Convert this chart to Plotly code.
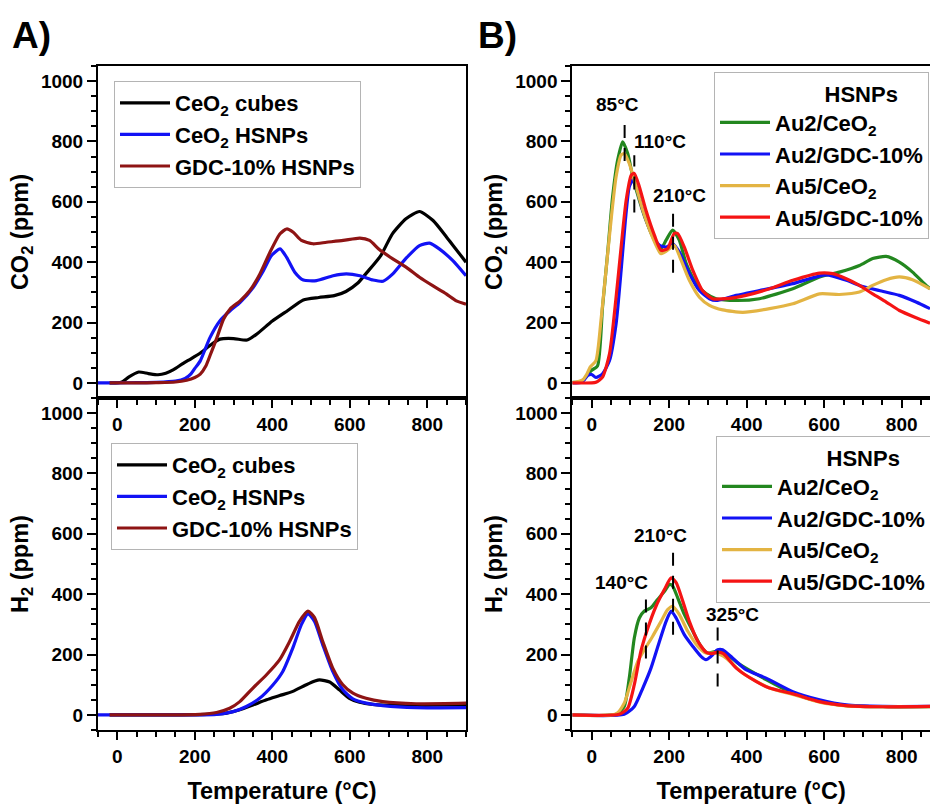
import plotly.graph_objects as go

# ---------------- data ----------------
# Panel A, CO2 (ppm) vs temperature (°C)
a_co2_cubes_t = [-20, 10, 30, 55, 80, 105, 125, 145, 170, 190, 215, 240, 265, 300, 335, 360, 400, 440, 480, 520, 560, 590, 620, 645, 680, 710, 745, 780, 815, 850, 900]
a_co2_cubes_v = [0, 2, 20, 36, 31, 27, 32, 44, 65, 80, 100, 125, 145, 147, 142, 162, 205, 240, 275, 283, 289, 303, 330, 367, 422, 494, 544, 568, 538, 483, 400]

a_co2_hsnp_t = [-50, 0, 50, 100, 150, 175, 190, 200, 214, 239, 265, 291, 317, 351, 377, 398, 420, 437, 458, 480, 514, 557, 591, 626, 660, 686, 711, 746, 780, 806, 831, 866, 900]
a_co2_hsnp_v = [0, 0, 1, 2, 6, 15, 30, 48, 73, 150, 206, 239, 267, 317, 372, 422, 444, 416, 367, 341, 339, 355, 361, 355, 341, 337, 361, 414, 455, 463, 444, 405, 355]

a_co2_gdc_t = [-20, 50, 100, 150, 179, 200, 214, 228, 239, 257, 274, 291, 317, 342, 368, 394, 420, 437, 454, 475, 505, 540, 583, 626, 651, 677, 711, 746, 780, 814, 849, 875, 900]
a_co2_gdc_v = [0, 0, 1, 3, 9, 18, 29, 55, 90, 150, 211, 245, 272, 306, 361, 433, 494, 510, 499, 472, 461, 466, 472, 480, 472, 441, 411, 383, 350, 322, 295, 272, 261]

# Panel A, H2 (ppm)
a_h2_cubes_t = [-20, 100, 213, 250, 282, 316, 350, 385, 419, 453, 488, 510, 522, 548, 573, 599, 625, 659, 728, 814, 900]
a_h2_cubes_v = [0, 0, 1, 3, 6, 17, 33, 50, 64, 78, 100, 112, 116, 109, 83, 55, 42, 35, 31, 32, 33]

a_h2_hsnp_t = [-50, 100, 200, 256, 299, 333, 367, 402, 427, 453, 475, 492, 509, 530, 556, 582, 608, 642, 685, 771, 900]
a_h2_hsnp_v = [0, 0, 0, 2, 11, 28, 55, 100, 144, 222, 299, 335, 310, 233, 144, 83, 53, 39, 31, 24, 24]

a_h2_gdc_t = [-20, 100, 213, 256, 290, 316, 350, 385, 419, 445, 470, 492, 509, 530, 556, 582, 608, 642, 685, 771, 900]
a_h2_gdc_v = [0, 0, 2, 8, 22, 44, 89, 133, 183, 244, 310, 344, 322, 244, 155, 100, 72, 55, 44, 37, 39]

# Panel B, CO2 (ppm)
b_co2_au2ceo2_t = [-50, -25, -12, 0, 15, 28, 41, 54, 67, 80, 93, 106, 123, 140, 162, 179, 192, 209, 226, 244, 269, 295, 321, 373, 433, 519, 588, 639, 691, 725, 760, 794, 828, 854, 873]
b_co2_au2ceo2_v = [2, 5, 25, 42, 56, 251, 428, 616, 738, 799, 760, 683, 605, 539, 473, 445, 473, 506, 473, 395, 329, 296, 279, 273, 279, 312, 351, 367, 389, 412, 419, 400, 367, 334, 312]

b_co2_au2gdc_t = [-50, -25, -10, 0, 11, 28, 46, 63, 76, 87, 97, 106, 115, 132, 157, 175, 192, 209, 226, 252, 278, 304, 321, 373, 433, 519, 605, 657, 691, 742, 794, 837, 873]
b_co2_au2gdc_v = [0, 3, 25, 28, 18, 30, 74, 196, 373, 539, 650, 672, 650, 572, 489, 456, 450, 461, 434, 362, 306, 279, 273, 290, 306, 329, 358, 340, 323, 306, 290, 268, 246]

b_co2_au5ceo2_t = [-50, -23, -12, -4, 11, 24, 37, 50, 63, 76, 84, 97, 115, 132, 157, 179, 201, 213, 231, 252, 278, 304, 338, 390, 459, 519, 588, 639, 691, 725, 760, 794, 828, 873]
b_co2_au5ceo2_v = [0, 10, 30, 52, 74, 207, 373, 539, 683, 755, 760, 727, 650, 572, 483, 428, 445, 456, 406, 340, 284, 257, 242, 234, 246, 262, 295, 293, 301, 323, 342, 351, 342, 312]

b_co2_au5gdc_t = [-50, 0, 11, 28, 46, 63, 76, 89, 102, 110, 123, 140, 162, 179, 196, 213, 222, 239, 261, 286, 312, 347, 398, 459, 519, 588, 622, 657, 691, 725, 760, 794, 837, 873]
b_co2_au5gdc_v = [0, 0, 2, 19, 96, 284, 450, 605, 688, 694, 650, 572, 489, 439, 445, 495, 495, 450, 373, 306, 279, 279, 290, 312, 340, 364, 362, 345, 323, 295, 268, 240, 216, 198]

# Panel B, H2 (ppm)
b_h2_au2ceo2_t = [-50, 63, 84, 97, 110, 123, 136, 153, 170, 188, 201, 209, 222, 239, 261, 282, 299, 321, 334, 381, 450, 519, 588, 657, 751, 873]
b_h2_au2ceo2_v = [0, 2, 28, 122, 255, 321, 344, 355, 382, 410, 432, 427, 388, 333, 277, 227, 205, 211, 214, 168, 117, 72, 45, 31, 27, 27]

b_h2_au2gdc_t = [-50, 84, 110, 132, 153, 175, 192, 205, 218, 239, 261, 282, 295, 308, 325, 338, 364, 398, 450, 519, 588, 657, 751, 873]
b_h2_au2gdc_v = [0, 2, 28, 89, 155, 244, 310, 344, 321, 266, 227, 194, 183, 194, 216, 216, 188, 150, 122, 77, 50, 33, 28, 28]

b_h2_au5ceo2_t = [-50, 63, 84, 102, 119, 136, 157, 179, 196, 209, 226, 248, 274, 295, 321, 347, 390, 459, 519, 588, 657, 751, 873]
b_h2_au5ceo2_v = [0, 3, 39, 111, 177, 216, 260, 310, 349, 360, 333, 277, 227, 205, 205, 188, 138, 89, 68, 42, 30, 27, 27]

b_h2_au5gdc_t = [-50, 71, 93, 110, 127, 145, 166, 188, 205, 218, 235, 252, 274, 295, 310, 325, 340, 373, 424, 459, 519, 588, 657, 751, 873]
b_h2_au5gdc_v = [0, 2, 22, 100, 211, 288, 360, 416, 454, 438, 377, 310, 244, 208, 203, 208, 203, 155, 111, 89, 70, 44, 31, 27, 28]

# peak markers: (temperature, label, dashed-line bottom, dashed-line top, label x, label y)
co2_peaks = [(85, "85°C", 735, 880, 66, 921),
             (110, "110°C", 565, 754, 175, 799),
             (210, "210°C", 365, 565, 226, 622)]
h2_peaks = [(140, "140°C", 187, 384, 77, 440),
            (210, "210°C", 266, 550, 177, 596),
            (325, "325°C", 94, 293, 363, 334)]

# ---------------- style ----------------
FONT = "Liberation Sans, Arial, sans-serif"
BLACK = "#000000"
BLUE = "#1212f5"
MAROON = "#8e1414"
GREEN = "#23871f"
GOLD = "#e3b443"
RED = "#f51414"
LW = 3.2

fig = go.Figure()


def add(t, v, name, color, xa, ya, legend):
    fig.add_trace(go.Scatter(
        x=t, y=v, name=name, mode="lines",
        line=dict(color=color, width=LW, shape="spline", smoothing=0.6),
        xaxis=xa, yaxis=ya, legend=legend))


# Panel A (top: CO2, bottom: H2)
add(a_co2_cubes_t, a_co2_cubes_v, "CeO<sub>2</sub> cubes", BLACK, "x", "y", "legend")
add(a_co2_hsnp_t, a_co2_hsnp_v, "CeO<sub>2</sub> HSNPs", BLUE, "x", "y", "legend")
add(a_co2_gdc_t, a_co2_gdc_v, "GDC-10% HSNPs", MAROON, "x", "y", "legend")

add(a_h2_cubes_t, a_h2_cubes_v, "CeO<sub>2</sub> cubes", BLACK, "x3", "y3", "legend3")
add(a_h2_hsnp_t, a_h2_hsnp_v, "CeO<sub>2</sub> HSNPs", BLUE, "x3", "y3", "legend3")
add(a_h2_gdc_t, a_h2_gdc_v, "GDC-10% HSNPs", MAROON, "x3", "y3", "legend3")

# Panel B (top: CO2, bottom: H2)
add(b_co2_au2ceo2_t, b_co2_au2ceo2_v, "Au2/CeO<sub>2</sub>", GREEN, "x2", "y2", "legend2")
add(b_co2_au2gdc_t, b_co2_au2gdc_v, "Au2/GDC-10%", BLUE, "x2", "y2", "legend2")
add(b_co2_au5ceo2_t, b_co2_au5ceo2_v, "Au5/CeO<sub>2</sub>", GOLD, "x2", "y2", "legend2")
add(b_co2_au5gdc_t, b_co2_au5gdc_v, "Au5/GDC-10%", RED, "x2", "y2", "legend2")

add(b_h2_au2ceo2_t, b_h2_au2ceo2_v, "Au2/CeO<sub>2</sub>", GREEN, "x4", "y4", "legend4")
add(b_h2_au2gdc_t, b_h2_au2gdc_v, "Au2/GDC-10%", BLUE, "x4", "y4", "legend4")
add(b_h2_au5ceo2_t, b_h2_au5ceo2_v, "Au5/CeO<sub>2</sub>", GOLD, "x4", "y4", "legend4")
add(b_h2_au5gdc_t, b_h2_au5gdc_v, "Au5/GDC-10%", RED, "x4", "y4", "legend4")

# ---------------- axes ----------------
W, H = 930, 804
XA = [98 / W, 466 / W]
XB = [572.3 / W, 1.0]
Y_TOP = [1 - 398 / H, 1 - 66 / H]
Y_BOT = [1 - 730 / H, 1 - 398 / H]

tick_font = dict(family=FONT, size=19, color="black", weight="bold")
title_font = dict(family=FONT, size=23.5, color="black", weight="bold")


def xaxis(domain, anchor, rng, title=None, mirror=True):
    d = dict(domain=domain, anchor=anchor, range=rng, tickvals=[0, 200, 400, 600, 800],
             ticks="outside", ticklen=8, tickwidth=2, tickcolor="black",
             minor=dict(dtick=50, tick0=0, ticks="outside", ticklen=5, tickwidth=2, tickcolor="black"),
             showline=True, linewidth=2, linecolor="black", mirror=mirror,
             showgrid=False, zeroline=False, tickfont=tick_font)
    if title:
        d["title"] = dict(text=title, font=title_font, standoff=22)
    return d


def yaxis(domain, anchor, title, mirror=True):
    return dict(domain=domain, anchor=anchor, range=[-50, 1050],
                tickvals=[0, 200, 400, 600, 800, 1000],
                ticks="outside", ticklen=9, tickwidth=2, tickcolor="black",
                minor=dict(dtick=50, tick0=0, ticks="outside", ticklen=5, tickwidth=2, tickcolor="black"),
                showline=True, linewidth=2, linecolor="black", mirror=mirror,
                showgrid=False, zeroline=False, tickfont=tick_font,
                title=dict(text=title, font=title_font, standoff=6))


TEMP = "Temperature (°C)"
CO2 = "CO<sub>2</sub> (ppm)"
H2 = "H<sub>2</sub> (ppm)"

legend_font = dict(family=FONT, size=22, color="black", weight="bold")
legend_common = dict(xanchor="left", yanchor="top", bgcolor="white",
                     bordercolor="#b4b4b4", borderwidth=1, itemwidth=50,
                     tracegroupgap=0, xref="paper", yref="paper", font=legend_font)
# leading no-break spaces push the centred heading towards the right of the box
hsnp_title = dict(text="\u00a0" * 13 + "HSNPs", side="top center", font=legend_font)

fig.update_layout(
    width=W, height=H,
    margin=dict(l=0, r=0, t=0, b=0, autoexpand=False),
    paper_bgcolor="white", plot_bgcolor="white",
    xaxis=xaxis(XA, "y", [-50, 900]),
    yaxis=yaxis(Y_TOP, "x", CO2),
    xaxis2=xaxis(XB, "y2", [-50, 873]),
    yaxis2=yaxis(Y_TOP, "x2", CO2, mirror=False),
    xaxis3=xaxis(XA, "y3", [-50, 900], TEMP),
    yaxis3=yaxis(Y_BOT, "x3", H2),
    xaxis4=xaxis(XB, "y4", [-50, 873], TEMP),
    yaxis4=yaxis(Y_BOT, "x4", H2, mirror=False),
    legend=dict(legend_common, x=114 / W, y=1 - 81 / H),
    legend3=dict(legend_common, x=111 / W, y=1 - 443 / H),
    legend2=dict(legend_common, x=714 / W, y=1 - 72 / H, title=hsnp_title),
    legend4=dict(legend_common, x=716 / W, y=1 - 436 / H, title=hsnp_title),
    showlegend=True,
)

# panel letters
for txt, px in (("A)", 31), ("B)", 497)):
    fig.add_annotation(text=txt, xref="paper", yref="paper", x=px / W, y=1 - 35 / H,
                       showarrow=False, xanchor="center", yanchor="middle",
                       font=dict(family=FONT, size=37, color="black", weight="bold"))

# peak markers
ann_font = dict(family=FONT, size=19, color="black", weight="bold")
for peaks, xa, ya in ((co2_peaks, "x2", "y2"), (h2_peaks, "x4", "y4")):
    for t, label, y0, y1, lx, ly in peaks:
        fig.add_shape(type="line", xref=xa, yref=ya, x0=t, x1=t, y0=y0, y1=y1,
                      line=dict(color="black", width=2, dash="13px,10px"), layer="above")
        fig.add_annotation(text=label, xref=xa, yref=ya, x=lx, y=ly, showarrow=False,
                           xanchor="center", yanchor="middle", font=ann_font)

fig.write_html("out.html")
